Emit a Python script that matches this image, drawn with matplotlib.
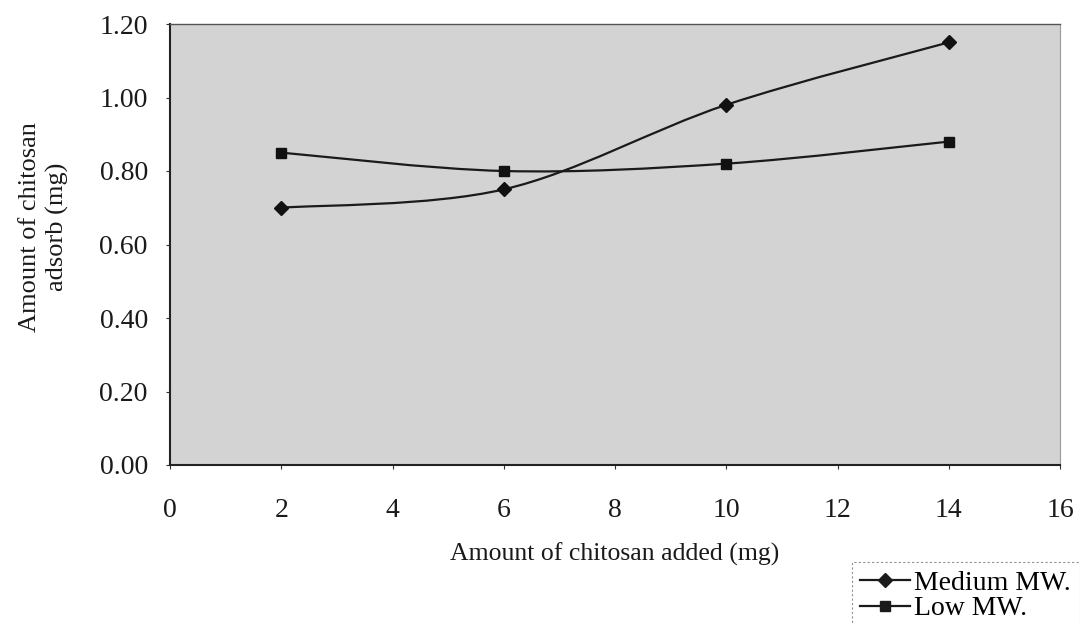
import matplotlib.pyplot as plt
from matplotlib.path import Path
from matplotlib.patches import PathPatch
import numpy as np

# data
added = [2, 6, 10, 14]
medium_mw = [0.70, 0.75, 0.98, 1.15]
low_mw = [0.85, 0.80, 0.82, 0.88]

x_ticks = [0, 2, 4, 6, 8, 10, 12, 14, 16]
y_ticks = [0.0, 0.2, 0.4, 0.6, 0.8, 1.0, 1.2]

plt.rcParams['font.family'] = ['Liberation Serif', 'DejaVu Serif']


def smooth_path(xs, ys, t=1 / 6):
    # Excel-style smoothed line: cubic bezier with catmull-rom control points
    xs = np.asarray(xs, float)
    ys = np.asarray(ys, float)
    verts = [(xs[0], ys[0])]
    codes = [Path.MOVETO]
    n = len(xs)
    for i in range(n - 1):
        p0 = np.array([xs[max(i - 1, 0)], ys[max(i - 1, 0)]])
        p1 = np.array([xs[i], ys[i]])
        p2 = np.array([xs[i + 1], ys[i + 1]])
        p3 = np.array([xs[min(i + 2, n - 1)], ys[min(i + 2, n - 1)]])
        c1 = p1 + (p2 - p0) * t
        c2 = p2 - (p3 - p1) * t
        verts += [tuple(c1), tuple(c2), tuple(p2)]
        codes += [Path.CURVE4] * 3
    return Path(verts, codes)


fig = plt.figure(figsize=(10.8, 6.24), dpi=100)
ax = fig.add_axes([170 / 1080, 1 - 465 / 624, 890 / 1080, 441 / 624])
ax.set_facecolor('#d3d3d3')

for ys, mk, lab in [(medium_mw, 'D', 'Medium MW.'), (low_mw, 's', 'Low MW.')]:
    ax.add_patch(PathPatch(smooth_path(added, ys), facecolor='none',
                           edgecolor='#1a1a1a', linewidth=1.6, zorder=3))
    ax.plot(added, ys, linestyle='none', marker=mk, markersize=7 if mk == 's' else 7.5,
            color='#111111', zorder=4)
    ax.plot([], [], color='#1a1a1a', linewidth=1.6, marker=mk, markersize=7,
            label=lab)

ax.set_xlim(0, 16)
ax.set_ylim(0, 1.2)
ax.set_xticks(x_ticks)
ax.set_yticks(y_ticks)
ax.set_yticklabels([f"{v:.2f}" for v in y_ticks])
ax.tick_params(axis='x', labelsize=20, pad=21, length=3, direction='out', color='#333333')
ax.tick_params(axis='y', labelsize=20, pad=13, length=3, direction='out', color='#333333')
for lbl in ax.get_xticklabels() + ax.get_yticklabels():
    lbl.set_color('#1a1a1a')

ax.spines['left'].set_color('#222222')
ax.spines['bottom'].set_color('#222222')
ax.spines['left'].set_linewidth(1.5)
ax.spines['bottom'].set_linewidth(1.5)
ax.spines['top'].set_color('#555555')
ax.spines['top'].set_linewidth(1.0)
ax.spines['right'].set_color('#9a9a9a')
ax.spines['right'].set_linewidth(0.8)

ax.set_xlabel("Amount of chitosan added (mg)", fontsize=18.5, color='#1a1a1a', labelpad=14)
fig.text(44 / 1080, 1 - 227 / 624, "Amount of chitosan\nadsorb (mg)", rotation=90,
         ha='center', va='center', fontsize=19, color='#1a1a1a', linespacing=1.3)

leg = fig.legend(loc='upper left', bbox_to_anchor=(852 / 1080, 1 - 562 / 624),
                 fontsize=20, frameon=True, fancybox=False, handlelength=1.8,
                 handletextpad=0.15, borderpad=0.3, labelspacing=0.0,
                 borderaxespad=0)
leg.get_frame().set_edgecolor('#777777')
leg.get_frame().set_linestyle((0, (2, 2)))
leg.get_frame().set_linewidth(0.8)

fig.savefig("out.png", dpi=100)
